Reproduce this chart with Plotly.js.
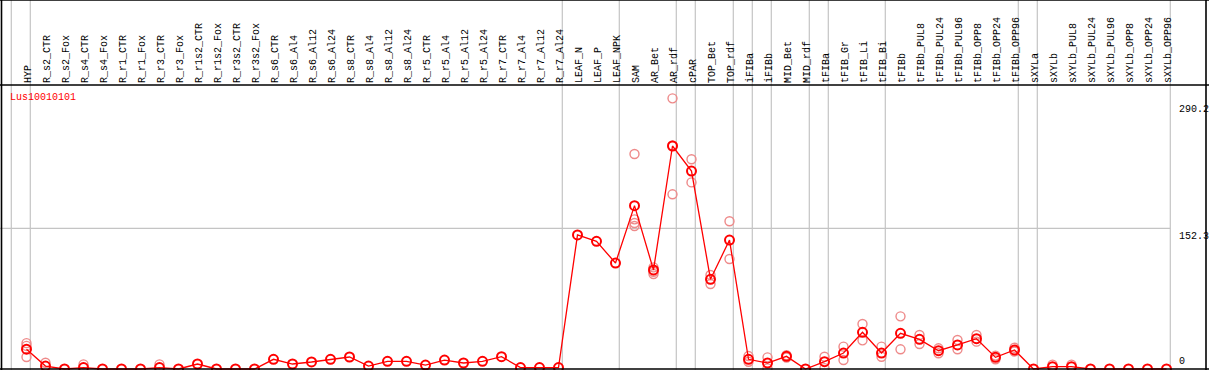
<!DOCTYPE html>
<html>
<head>
<meta charset="utf-8">
<script src="https://cdn.plot.ly/plotly-3.0.1.min.js"></script>
<style>html,body{margin:0;padding:0;background:#fff;}#chart{width:1209px;height:370px;}</style>
</head>
<body>
<div id="chart"></div>
<script>
const geneName = "Lus10010101";
const categories = ["HYP","R_s2_CTR","R_s2_Fox","R_s4_CTR","R_s4_Fox","R_r1_CTR","R_r1_Fox","R_r3_CTR","R_r3_Fox",
  "R_r1s2_CTR","R_r1s2_Fox","R_r3s2_CTR","R_r3s2_Fox","R_s6_CTR","R_s6_Al4","R_s6_Al12","R_s6_Al24",
  "R_s8_CTR","R_s8_Al4","R_s8_Al12","R_s8_Al24","R_r5_CTR","R_r5_Al4","R_r5_Al12","R_r5_Al24",
  "R_r7_CTR","R_r7_Al4","R_r7_Al12","R_r7_Al24","LEAF_N","LEAF_P","LEAF_NPK","SAM","AR_Bet","AR_rdf",
  "cPAR","TOP_Bet","TOP_rdf","iFIBa","iFIBb","MID_Bet","MID_rdf","tFIBa","tFIB_Gr","tFIB_Li","tFIB_Bi",
  "tFIBb","tFIBb_PUL8","tFIBb_PUL24","tFIBb_PUL96","tFIBb_OPP8","tFIBb_OPP24","tFIBb_OPP96",
  "sXYLa","sXYLb","sXYLb_PUL8","sXYLb_PUL24","sXYLb_PUL96","sXYLb_OPP8","sXYLb_OPP24","sXYLb_OPP96"];
const meanValues = [21.5,3.2,0,1.5,0,0,0,1.5,0,
  5.4,0,0,0,10.5,5.4,7.6,10.5,
  13,3.2,8.3,8.3,4.3,9.7,6.5,8.3,
  13.3,1.5,1.5,1.5,145.1,138.2,114.7,176.8,107.2,241.4,
  214.3,97.1,139.6,10.5,6.5,13.7,0,7.9,17.3,39.7,17.3,
  38.6,32.1,19.8,26,32.8,12.6,20.6,
  0,2.5,2.5,0,0,0,0,0];
const replicateCategories = ["HYP","HYP","HYP","R_s2_CTR","R_s4_CTR","R_r3_CTR",
  "SAM","SAM","SAM","SAM","AR_Bet","AR_Bet","AR_Bet","AR_rdf","AR_rdf","AR_rdf",
  "cPAR","cPAR","TOP_Bet","TOP_Bet","TOP_rdf","TOP_rdf","iFIBa","iFIBa","iFIBb","iFIBb",
  "MID_Bet","MID_Bet","tFIBa","tFIBa","tFIB_Gr","tFIB_Gr","tFIB_Li","tFIB_Li","tFIB_Bi","tFIB_Bi",
  "tFIBb","tFIBb","tFIBb_PUL8","tFIBb_PUL8","tFIBb_PUL24","tFIBb_PUL24","tFIBb_PUL96","tFIBb_PUL96",
  "tFIBb_OPP8","tFIBb_OPP8","tFIBb_OPP24","tFIBb_OPP24","tFIBb_OPP96","tFIBb_OPP96",
  "sXYLb","sXYLb_PUL8"];
const replicateValues = [28,25,13,6.8,5,5,
  232.7,162,158,154.8,110,105.3,102.8,293,189.1,242,
  227,202,101.8,92,159.9,119.1,14,7.9,12.6,0.7,
  15,12.5,13.3,1,24.2,9.7,48.7,31,24.2,13.3,
  57,21.3,36.8,27,22.4,17,31.4,21.3,
  36.8,29.6,14.5,10.5,23,19,
  4.7,4.7];
const groupBoundariesAfter = [-1,0,28,31,34,35,37,38,39,41,42,45,52,53,60];
const scaleLabels = ["290.2","152.3","0"];
const scaleValues = [290.2,152.3,0];

const idx = categories.map((c,i)=>i);
const repX = replicateCategories.map(c=>categories.indexOf(c));
const mono = "Liberation Mono, DejaVu Sans Mono, monospace";

const W = 1209, H = 370, T = 85;
const xPx0 = 26.5, xStep = 19;
const xRange = [-xPx0/xStep, (W - xPx0)/xStep];
const k = 0.9238, zeroPx = 369;
const yRange = [-(H - zeroPx)/k, (zeroPx - T)/k];
const ypaperTop = (H) / (H - T);
const rightEdgeX = 60.2;

const shapes = [];
groupBoundariesAfter.forEach(b=>{
  shapes.push({type:'line', xref:'x', yref:'paper', x0:b+0.2, x1:b+0.2, y0:0, y1:ypaperTop,
    line:{color:'#c4c4c4', width:1.2}, layer:'below'});
});
shapes.push({type:'line', xref:'x', yref:'y', x0:xRange[0], x1:rightEdgeX, y0:scaleValues[1], y1:scaleValues[1],
  line:{color:'#c4c4c4', width:1.2}, layer:'below'});
const black = {color:'#000', width:1.6};
shapes.push({type:'line', xref:'paper', yref:'paper', x0:0, x1:1, y0:ypaperTop, y1:ypaperTop, line:black});
shapes.push({type:'line', xref:'paper', yref:'paper', x0:0, x1:1, y0:1, y1:1, line:black});
shapes.push({type:'line', xref:'paper', yref:'y', x0:0, x1:1, y0:0, y1:0, line:black});
shapes.push({type:'line', xref:'paper', yref:'paper', x0:1.5/W, x1:1.5/W, y0:0, y1:ypaperTop, line:black});
shapes.push({type:'line', xref:'paper', yref:'paper', x0:1206/W, x1:1206/W, y0:0, y1:ypaperTop, line:black});

const annotations = [];
annotations.push({xref:'paper', yref:'paper', x:8/W, y:1-(97-T)/(H-T), xanchor:'left', yanchor:'middle',
  text:geneName, showarrow:false, font:{family:mono, size:10, color:'#ff0000'}});
scaleLabels.forEach((t,i)=>{
  annotations.push({xref:'paper', yref:'y', x:1177/W, y:scaleValues[i], xanchor:'left',
    yanchor: scaleValues[i]===0 ? 'bottom' : 'top', yshift: scaleValues[i]===0 ? 0 : -1,
    text:t, showarrow:false, font:{family:mono, size:10, color:'#000'}});
});

const traces = [
  {x:repX, y:replicateValues, type:'scatter', mode:'markers', hoverinfo:'skip',
   marker:{symbol:'circle-open', size:9, color:'#ee8a8a', line:{width:1.4, color:'#ee8a8a'}}},
  {x:idx, y:meanValues, type:'scatter', mode:'lines+markers',
   line:{color:'#ff0000', width:1.3},
   marker:{symbol:'circle-open', size:9, color:'#ff0000', line:{width:2, color:'#ff0000'}}}
];

const layout = {
  width:W, height:H, margin:{l:0, r:0, t:T, b:0}, showlegend:false,
  paper_bgcolor:'#fff', plot_bgcolor:'#fff',
  xaxis:{range:xRange, side:'top', tickmode:'array', tickvals:idx, ticktext:categories, tickangle:-90,
    tickfont:{family:mono, size:10, color:'#000'}, ticks:'', showgrid:false, zeroline:false, showline:false,
    ticklabelstandoff:1, ticklabelshift:1},
  yaxis:{range:yRange, showticklabels:false, showgrid:false, zeroline:false, showline:false, ticks:''},
  shapes:shapes, annotations:annotations
};
Plotly.newPlot('chart', traces, layout, {staticPlot:true, displayModeBar:false});
</script>
</body>
</html>
